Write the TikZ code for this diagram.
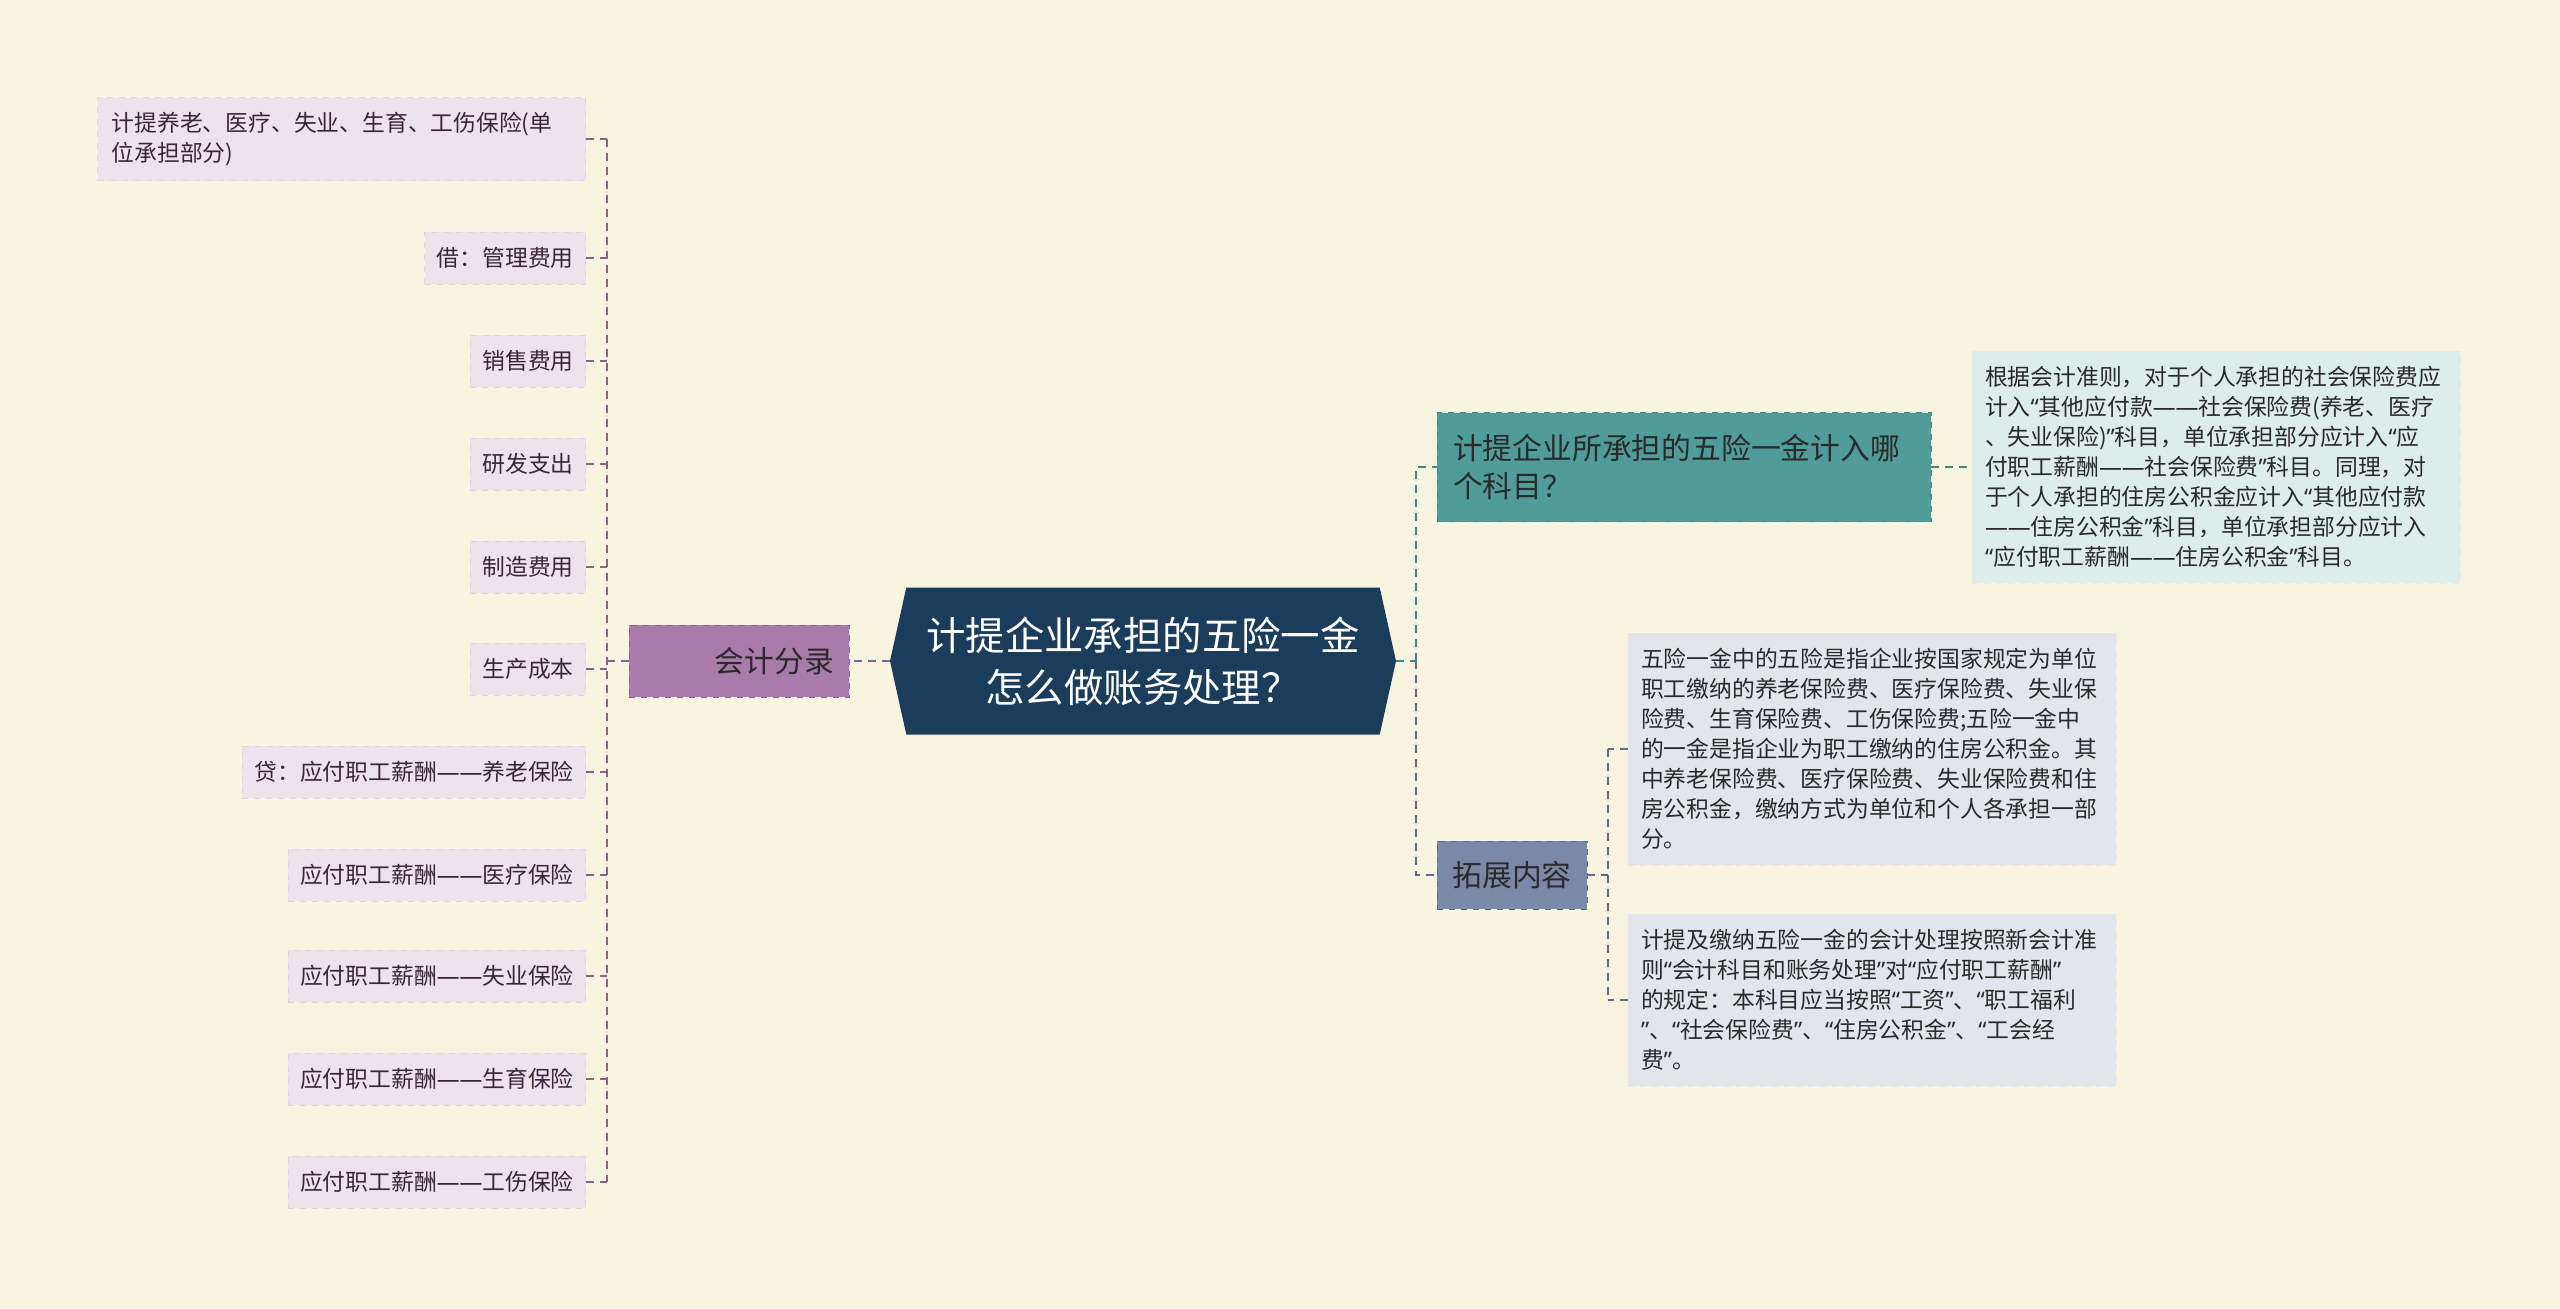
\documentclass[tikz,border=0pt]{standalone}
\usepackage{fontspec}
\setmainfont{Noto Sans CJK SC}
\newfontfamily\quotefont{Noto Sans}
\newcommand\zhdash{{\quotefont ——}}
\newcommand\zho{{\quotefont “}}
\newcommand\zhc{{\quotefont ”}}
\usetikzlibrary{shapes.symbols}

\definecolor{bgcream}{HTML}{F9F4DF}
\definecolor{rootblue}{HTML}{1B3D5C}
\definecolor{fenlupurple}{HTML}{A97BAA}
\definecolor{fenluline}{HTML}{8E5F8F}
\definecolor{leafpurple}{HTML}{EEE3EC}
\definecolor{leafline}{HTML}{E2D2DF}
\definecolor{leaftext}{HTML}{3A2638}
\definecolor{tealbox}{HTML}{4F9C9A}
\definecolor{tealline}{HTML}{3C8684}
\definecolor{tealleaf}{HTML}{DDEDEB}
\definecolor{slatebox}{HTML}{7B88A7}
\definecolor{slateline}{HTML}{5E6B8C}
\definecolor{slateleaf}{HTML}{E3E5EC}
\definecolor{darktext}{HTML}{2A2A2A}

\begin{document}
\begin{tikzpicture}[x=0.5pt,y=-0.5pt]
\tikzstyle{leaf}=[fill=leafpurple, draw=leafline, dashed, inner xsep=6pt,
  minimum height=26pt, text=leaftext, anchor=east,
  font=\fontsize{11.4}{15}\selectfont]
\tikzstyle{note}=[draw, dashed, inner xsep=6.5pt, text width=231pt, align=left,
  text=darktext, font=\fontsize{11.4}{15}\selectfont]
\tikzstyle{topic}=[draw, dashed, text=darktext, font=\fontsize{14.9}{18.8}\selectfont]
\tikzstyle{lineP}=[fenluline, dashed, line width=0.7pt, dash pattern=on 4pt off 3pt]
\tikzstyle{lineT}=[tealline, dashed, line width=0.7pt, dash pattern=on 4pt off 3pt]
\tikzstyle{lineS}=[slateline, dashed, line width=0.7pt, dash pattern=on 4pt off 3pt]

\fill[bgcream] (0,0) rectangle (2560,1308);
\useasboundingbox (0,0) rectangle (2560,1308);

% root
\node[signal, signal to=east and west, signal pointer angle=155, fill=rootblue,
  minimum width=253pt, minimum height=73.5pt, inner sep=0pt, align=center,
  text=white, font=\fontsize{19.7}{26}\selectfont] (root) at (1143,661)
  {计提企业承担的五险一金\\怎么做账务处理？};

% left branch
\node[topic, fill=fenlupurple, draw=fenluline, minimum height=36pt,
  text width=95pt, align=right, inner xsep=7.5pt] (fenlu) at (739,661) {会计分录};
\coordinate (lj) at (607,661);

\node[leaf, text width=230pt, align=left, inner xsep=7pt, minimum height=41.5pt] (l1) at (586,139)
  {计提养老、医疗、失业、生育、工伤保险(单\\位承担部分)};
\node[leaf] (l2) at (586,258) {借：管理费用};
\node[leaf] (l3) at (586,361) {销售费用};
\node[leaf] (l4) at (586,464) {研发支出};
\node[leaf] (l5) at (586,567) {制造费用};
\node[leaf] (l6) at (586,669) {生产成本};
\node[leaf] (l7) at (586,772) {贷：应付职工薪酬\zhdash 养老保险};
\node[leaf] (l8) at (586,875) {应付职工薪酬\zhdash 医疗保险};
\node[leaf] (l9) at (586,976) {应付职工薪酬\zhdash 失业保险};
\node[leaf] (l10) at (586,1079) {应付职工薪酬\zhdash 生育保险};
\node[leaf] (l11) at (586,1182) {应付职工薪酬\zhdash 工伤保险};

\draw[lineP] (root.west) -- (fenlu.east);
\draw[lineP] (fenlu.west) -- (lj);
\draw[lineP] (lj |- l1.east) -- (lj |- l11.east);
\foreach \i in {1,...,11}
  \draw[lineP] (l\i.east) -- (l\i.east -| lj);

% right branch
\node[topic, fill=tealbox, draw=tealline, minimum height=54.5pt,
  text width=231pt, align=left, inner xsep=8pt] (kemu) at (1684,467)
  {计提企业所承担的五险一金计入哪\\个科目？};
\node[note, fill=tealleaf, draw=tealleaf, minimum height=116pt] (kemu1) at (2216,467)
  {根据会计准则，对于个人承担的社会保险费应\\
   计入\zho 其他应付款\zhdash 社会保险费(养老、医疗\\
   、失业保险)\zhc 科目，单位承担部分应计入\zho 应\\
   付职工薪酬\zhdash 社会保险费\zhc 科目。同理，对\\
   于个人承担的住房公积金应计入\zho 其他应付款\\
   \zhdash 住房公积金\zhc 科目，单位承担部分应计入\\
   \zho 应付职工薪酬\zhdash 住房公积金\zhc 科目。};

\node[topic, fill=slatebox, draw=slateline, minimum height=34pt,
  minimum width=75pt] (tuozhan) at (1512,875) {拓展内容};
\node[note, fill=slateleaf, draw=slateleaf, minimum height=116pt] (tz1) at (1872,749)
  {五险一金中的五险是指企业按国家规定为单位\\
   职工缴纳的养老保险费、医疗保险费、失业保\\
   险费、生育保险费、工伤保险费;五险一金中\\
   的一金是指企业为职工缴纳的住房公积金。其\\
   中养老保险费、医疗保险费、失业保险费和住\\
   房公积金，缴纳方式为单位和个人各承担一部\\
   分。};
\node[note, fill=slateleaf, draw=slateleaf, minimum height=86pt] (tz2) at (1872,1000)
  {计提及缴纳五险一金的会计处理按照新会计准\\
   则\zho 会计科目和账务处理\zhc 对\zho 应付职工薪酬\zhc\\
   的规定：本科目应当按照\zho 工资\zhc 、\zho 职工福利\\
   \zhc 、\zho 社会保险费\zhc 、\zho 住房公积金\zhc 、\zho 工会经\\
   费\zhc 。};

\coordinate (rj) at (1416,661);
\coordinate (tj) at (1608,875);
\draw[lineT] (root.east) -- (rj);
\draw[lineT] (rj) |- (kemu.west);
\draw[lineS] (rj) |- (tuozhan.west);
\draw[lineT] (kemu.east) -- (kemu1.west);
\draw[lineS] (tuozhan.east) -- (tj);
\draw[lineS] (tj |- tz1.west) -- (tj |- tz2.west);
\draw[lineS] (tz1.west) -- (tz1.west -| tj);
\draw[lineS] (tz2.west) -- (tz2.west -| tj);
\end{tikzpicture}
\end{document}
